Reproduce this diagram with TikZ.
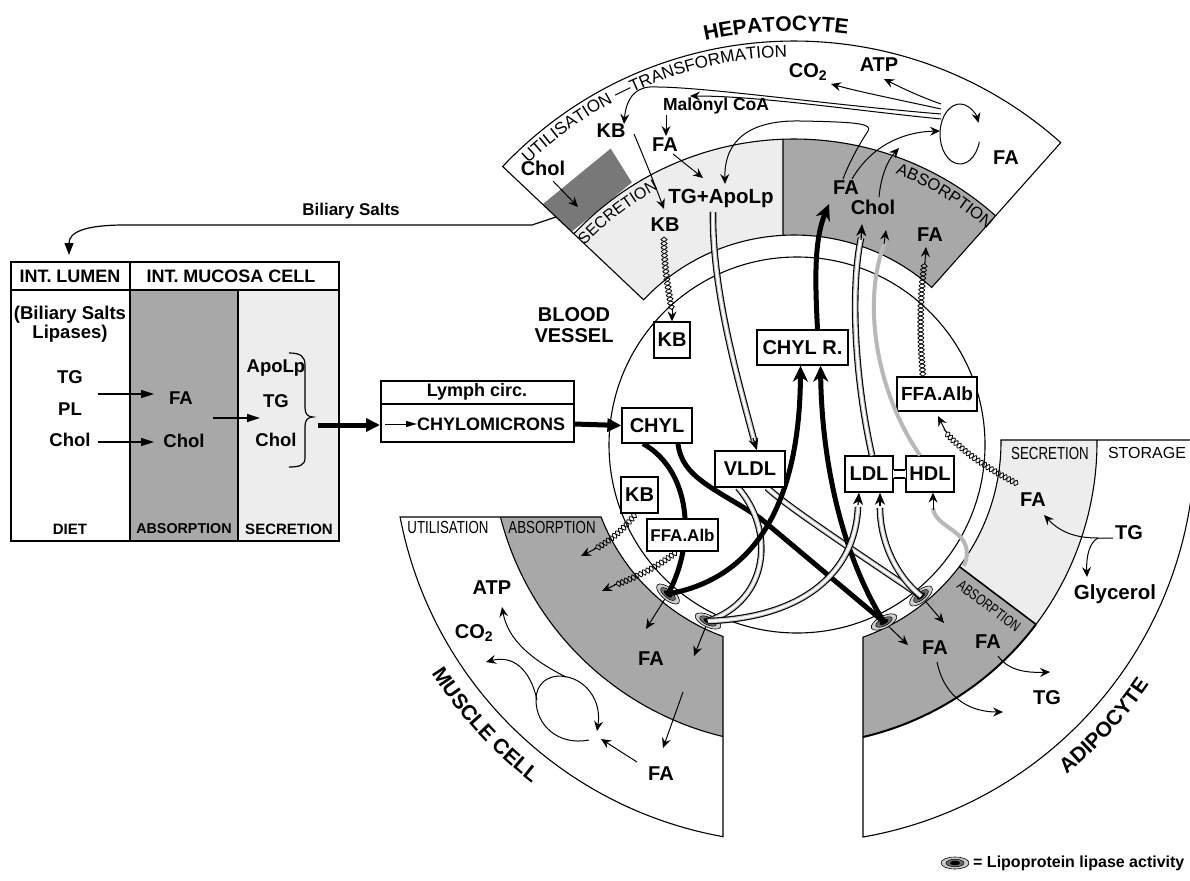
\documentclass[tikz,border=0pt]{standalone}
\usepackage{fontspec}
\setmainfont{Liberation Sans}
\newfontfamily\narrowf[FakeStretch=0.76]{Liberation Sans}
\usetikzlibrary{arrows.meta,decorations.text,decorations.pathmorphing}
\definecolor{dkg}{gray}{0.66}
\definecolor{ltg}{gray}{0.93}
\definecolor{bileg}{gray}{0.47}
\definecolor{hdlg}{gray}{0.72}
\newcommand{\fsz}[1]{\fontsize{#1}{#1}\selectfont}
\newcommand{\bigcellfont}{\bfseries\fontsize{21}{21}\selectfont}
\newcommand{\utfont}{\fontsize{17}{17}\selectfont}
\newcommand{\bandfont}{\fontsize{16}{16}\selectfont}
\newcommand{\bandfontb}{\fontsize{16.5}{16.5}\selectfont}
\tikzset{
  lb/.style={font=\bfseries\fsz{20}, inner sep=0pt},
  tb/.style={font=\bfseries\fsz{18.5}, inner sep=0pt},
  bx/.style={draw, line width=1.3pt, fill=white, font=\bfseries\fsz{20}, inner sep=0pt},
  cl/.style={line width=1.1pt},
  ar/.style={line width=1pt, -{Stealth[length=10pt,width=9pt,inset=3.5pt]}},
  tar/.style={line width=1.2pt, -{Triangle[length=13pt,width=8pt]}},
  bigtar/.style={line width=5pt, -{Triangle[length=14pt,width=13pt]}},
  fat/.style={line width=5pt},
  fatar/.style={line width=5pt, -{Stealth[length=16pt,width=15pt,inset=5pt]}},
  tube/.style={line width=6.6pt, black, postaction={draw=gray!50, line width=4.4pt}, postaction={draw=white, line width=2.2pt}},
  tubetip/.style={line width=1.2pt, -{Stealth[length=12pt,width=10pt,inset=3.5pt]}},
  chn/.style={decorate, decoration={snake, segment length=8pt, amplitude=3pt}, line width=0.8pt},
  chnm/.style={decorate, decoration={snake, segment length=8pt, amplitude=3pt, mirror}, line width=0.8pt},
  gl/.style={draw=hdlg, line width=4pt},
  lipase/.pic={
    \draw[fill=gray!40, line width=0.6pt] (0,0) ellipse [x radius=14, y radius=6];
    \draw[fill=gray!85!black, line width=0.5pt] (0,0) ellipse [x radius=9, y radius=3.8];
    \fill (0,0) ellipse [x radius=5, y radius=2.3];
  },
}
\begin{document}
\begin{tikzpicture}[x=1pt,y=-1pt]
\useasboundingbox (0,0) rectangle (1190,880);
\clip (0,0) rectangle (1190,880);
\fill[white] (0,0) rectangle (1190,880);
\coordinate (C) at (794,442);
\coordinate (V) at (797,445);

% ================= cells =================
\begin{scope}[shift={(794,442)}]
 % hepatocyte
 \fill[white] (-136.6:207) -- (-136.6:401) arc[start angle=-136.6,end angle=-48.3,radius=401] -- (-48.3:207) arc[start angle=-48.3,end angle=-136.6,radius=207] -- cycle;
 \fill[ltg] (-136.6:207) -- (-136.6:303) arc[start angle=-136.6,end angle=-92.08,radius=303] -- (-93.05:207) arc[start angle=-93.05,end angle=-136.6,radius=207] -- cycle;
 \fill[dkg] (-93.05:207) -- (-92.08:303) arc[start angle=-92.08,end angle=-48.3,radius=303] -- (-48.3:207) arc[start angle=-48.3,end angle=-93.05,radius=207] -- cycle;
 \fill[bileg] (-136.6:346) -- (-122:346) -- (-122:306) -- (-136.6:306) -- cycle;
 \draw[cl] (-136.6:303) arc[start angle=-136.6,end angle=-48.3,radius=303];
 \draw[cl] (-93.05:207) -- (-92.08:303);
 \draw[cl] (-136.6:207) -- (-136.6:401) arc[start angle=-136.6,end angle=-48.3,radius=401] -- (-48.3:207) arc[start angle=-48.3,end angle=-136.6,radius=207] -- cycle;
 % muscle cell
 \fill[white] (158.76:207) -- (169.22:401) arc[start angle=169.22,end angle=100.2,radius=401] -- (110.06:207) arc[start angle=110.06,end angle=158.76,radius=207] -- cycle;
 \fill[dkg] (158.76:207) -- (165.67:303) arc[start angle=165.67,end angle=103.55,radius=303] -- (110.06:207) arc[start angle=110.06,end angle=158.76,radius=207] -- cycle;
 \draw[cl] (165.67:303) arc[start angle=165.67,end angle=103.55,radius=303];
 \draw[cl] (158.76:207) -- (169.22:401) arc[start angle=169.22,end angle=100.2,radius=401] -- (110.06:207) arc[start angle=110.06,end angle=158.76,radius=207] -- cycle;
 % adipocyte
 \fill[white] (-0.55:207) -- (-0.29:401) arc[start angle=-0.29,end angle=80.09,radius=401] -- (70.53:207) arc[start angle=70.53,end angle=-0.55,radius=207] -- cycle;
 \fill[ltg] (-0.55:207) -- (-0.38:303) arc[start angle=-0.38,end angle=37,radius=303] -- (37:207) arc[start angle=37,end angle=-0.55,radius=207] -- cycle;
 \fill[dkg] (37:207) -- (37:303) arc[start angle=37,end angle=76.84,radius=303] -- (70.53:207) arc[start angle=70.53,end angle=37,radius=207] -- cycle;
 \draw[cl] (-0.38:303) arc[start angle=-0.38,end angle=37,radius=303];
 \draw[line width=2pt] (37:303) arc[start angle=37,end angle=76.84,radius=303];
 \draw[line width=1.6pt] (37:207) -- (37:303);
 \draw[cl] (-0.55:207) -- (-0.29:401) arc[start angle=-0.29,end angle=80.09,radius=401] -- (70.53:207) arc[start angle=70.53,end angle=-0.55,radius=207] -- cycle;
\end{scope}

% blood vessel
\draw[cl, fill=white] (V) circle[radius=188];

% cell titles along arcs
\path[decorate, decoration={text along path, text align=center, text={|\bigcellfont|HEPATOCYTE}}] ([shift={(-120:411)}]C) arc[start angle=-120, end angle=-65, radius=411];
\path[decorate, decoration={text along path, text align=center, text={|\bigcellfont|MUSCLE CELL}}] ([shift={(165:430)}]C) arc[start angle=165, end angle=110, radius=430];
\path[decorate, decoration={text along path, text align=center, text={|\bigcellfont|ADIPOCYTE}}] ([shift={(75:430)}]C) arc[start angle=75, end angle=10, radius=430];
\path[decorate, decoration={text along path, text align=center, text={|\utfont|UTILISATION —TRANSFORMATION}}] ([shift={(-135:385)}]C) arc[start angle=-135, end angle=-89.7, radius=385];
\path[decorate, decoration={text along path, text align=center, text={|\bandfont|SECRETION}}] ([shift={(-140:287)}]C) arc[start angle=-140, end angle=-115, radius=287];
\path[decorate, decoration={text along path, text align=center, text={|\bandfontb|ABSORPTION}}] ([shift={(-71:287)}]C) arc[start angle=-71, end angle=-46, radius=287];

% ================= table =================
\fill[dkg] (130,290) rectangle (238,541);
\fill[ltg] (238,290) rectangle (339,541);
\draw[line width=1.4pt] (11,262) rectangle (339,541);
\draw[line width=1.4pt] (11,290) -- (339,290);
\draw[line width=1.4pt] (130,262) -- (130,541);
\draw[line width=2.4pt] (238,290) -- (238,541);
\node[font=\bfseries\fsz{18}, inner sep=0pt] (tLum) at (70,276) {INT. LUMEN};
\node[font=\bfseries\fsz{18}, inner sep=0pt] (tMuc) at (231,276) {INT. MUCOSA CELL};
\node[font=\bfseries\fontsize{18.5}{19}\selectfont, inner sep=0pt, align=center] (tBil) at (70,324) {(Biliary Salts\\Lipases)};
\node[tb] (tTG) at (70,377) {TG};
\node[tb] (tPL) at (70,409) {PL};
\node[tb] (tCh) at (70,440) {Chol};
\node[tb] (aFAt) at (181,398) {FA};
\node[tb] (aCht) at (184,441) {Chol};
\node[tb] (sApo) at (276,368) {ApoLp};
\node[tb] (sTG) at (276,401) {TG};
\node[tb] (sCh) at (276,440) {Chol};
\node[font=\bfseries\fsz{15}, inner sep=0pt] (fDiet) at (70,529) {DIET};
\node[font=\bfseries\fsz{14.3}, inner sep=0pt] (fAbs) at (184,529) {ABSORPTION};
\node[font=\bfseries\fsz{15}, inner sep=0pt] (fSec) at (289,529) {SECRETION};
\coordinate (ta1) at (98,394); \coordinate (ta1e) at (154,394);
\coordinate (ta2) at (98,442); \coordinate (ta2e) at (154,442);
\coordinate (ta3) at (213,418); \coordinate (ta3e) at (260,418);
\draw[tar] (ta1) -- (ta1e);
\draw[tar] (ta2) -- (ta2e);
\draw[tar] (ta3) -- (ta3e);
\draw[line width=1.2pt] (289,353) .. controls (300,353) and (305,356) .. (305,365) -- (305,408) .. controls (305,414) and (308,417) .. (313,417) .. controls (308,417) and (305,420) .. (305,426) -- (305,458) .. controls (305,465) and (300,467) .. (289,467);

% biliary salts
\coordinate (bilS) at (556,217);
\coordinate (bilK) at (532,225);
\coordinate (bilE) at (69,255);
\node[font=\bfseries\fsz{17}, inner sep=0pt] (bil) at (351,211) {Biliary Salts};
\draw[line width=1.2pt, -{Triangle[length=12pt,width=9pt]}] (bilS) -- (bilK) -- (125,225) .. controls (85,225) and (69,232) .. (bilE);

% lymph box
\draw[cl] (381,381) rectangle (574,442);
\draw[cl] (381,404) -- (574,404);
\node[font=\bfseries\fsz{18}, inner sep=0pt] (lym) at (477,392) {Lymph circ.};
\node[font=\bfseries\fsz{18}, inner sep=0pt, anchor=west] (chm) at (417,424) {CHYLOMICRONS};
\coordinate (chmA) at (385,424);
\draw[line width=1pt, -{Triangle[length=11pt,width=6pt]}] (chmA) -- (chm.west);
\coordinate (brT) at (318,425); \coordinate (lymL) at (380,425);
\draw[bigtar] (brT) -- (lymL);

% ================= lipases =================
\coordinate (mu1) at (668,594);
\coordinate (mu2) at (708,621);
\coordinate (ad1) at (884,622);
\coordinate (ad2) at (921,596);
\pic[rotate=-39.7] at (mu1) {lipase};
\pic[rotate=-25.7] at (mu2) {lipase};
\pic[rotate=26.6] at (ad1) {lipase};
\pic[rotate=39.5] at (ad2) {lipase};

% ================= boxes (positions) =================
\node[bx, minimum width=36pt, minimum height=36pt] (kbA) at (672,340) {KB};
\node[bx, minimum width=91pt, minimum height=35pt] (chylr) at (802.5,347.5) {CHYL R.};
\node[bx, minimum width=80pt, minimum height=34pt, font=\bfseries\fsz{19}] (ffaA) at (937,394) {FFA.Alb};
\node[bx, minimum width=70pt, minimum height=36pt] (vldl) at (750,469) {VLDL};
\node[bx, minimum width=48pt, minimum height=36pt] (ldl) at (869,474) {LDL};
\node[bx, minimum width=48pt, minimum height=36pt] (hdl) at (930,474) {HDL};
\node[bx, minimum width=70pt, minimum height=35pt] (chyl) at (657,425.5) {CHYL};
\node[bx, minimum width=37pt, minimum height=36pt] (kbB) at (639.5,495) {KB};
\node[bx, minimum width=71pt, minimum height=32pt, font=\bfseries\fsz{17}] (ffaB) at (682.5,535) {FFA.Alb};

% ================= vessel connectors =================
\draw[bigtar] (574,424) -- (chyl.west);
% CHYL -> lipases
\draw[fat] ([shift={(-14,0)}]chyl.south) .. controls (690,470) and (697,540) .. (mu1);
\draw[fat] ([shift={(21,0)}]chyl.south) .. controls (682,478) and (715,488) .. (760,518) -- (ad1);
% VLDL tubes
\draw[tube] ([shift={(-12,0)}]vldl.south) .. controls (775,530) and (770,600) .. (mu2);
\draw[tube] ([shift={(17,0)}]vldl.south) .. controls (785,505) and (850,548) .. (ad2);
% lipases -> CHYL R.
\draw[fatar] (mu1) .. controls (775,575) and (800,470) .. ([shift={(-2,0)}]chylr.south);
\draw[fatar] (ad1) .. controls (845,560) and (822,470) .. ([shift={(18,0)}]chylr.south);
% lipases -> LDL tubes
\draw[tube] (mu2) .. controls (800,618) and (855,575) .. (858,507);
\draw[tubetip] (858,505) -- ([shift={(-10,0)}]ldl.south);
\draw[tube] (ad2) .. controls (895,575) and (880,540) .. (880,508);
\draw[tubetip] (880,506) -- ([shift={(11,0)}]ldl.south);
% HDL
\coordinate (hdlS) at (964,566);
\draw[gl] (hdlS) .. controls (978,530) and (935,530) .. (933,508);
\draw[ar] (933,510) -- ([shift={(3,0)}]hdl.south);
% redraw boxes on top
\node[bx, minimum width=70pt, minimum height=36pt] at (vldl) {VLDL};
\node[bx, minimum width=48pt, minimum height=36pt] at (ldl) {LDL};
\node[bx, minimum width=48pt, minimum height=36pt] at (hdl) {HDL};
\node[bx, minimum width=70pt, minimum height=35pt] at (chyl) {CHYL};
\node[bx, minimum width=91pt, minimum height=35pt] at (chylr) {CHYL R.};
\node[bx, minimum width=37pt, minimum height=36pt] at (kbB) {KB};
\node[bx, minimum width=71pt, minimum height=32pt, font=\bfseries\fsz{17}] at (ffaB) {FFA.Alb};
% LDL-HDL bridge
\fill[white] ([shift={(-1,-4)}]ldl.east) rectangle ([shift={(1,4)}]hdl.west);
\draw[line width=1.2pt] ([shift={(0,-4)}]ldl.east) -- ([shift={(0,-4)}]hdl.west);
\draw[line width=1.2pt] ([shift={(0,4)}]ldl.east) -- ([shift={(0,4)}]hdl.west);

% ================= hepatocyte =================
\node[lb] (hCO2) at (808,72) {CO\textsubscript{2}};
\node[lb] (hATP) at (879,65) {ATP};
\node[font=\bfseries\fsz{17.5}, inner sep=0pt] (hMal) at (716,106) {Malonyl CoA};
\node[lb] (hKB1) at (611,131) {KB};
\node[lb] (hFA1) at (665,145) {FA};
\node[lb] (hCh1) at (543,168) {Chol};
\node[font=\bfseries\fsz{20.5}, inner sep=0pt] (hTG) at (721,198) {TG+ApoLp};
\node[lb] (hKB2) at (665,225) {KB};
\node[lb] (hFA2) at (846,188) {FA};
\node[lb] (hCh2) at (873,207) {Chol};
\node[lb] (hFA3) at (930,235) {FA};
\node[lb] (hFA4) at (1006,158) {FA};
\coordinate (loopC) at (960,134);
\draw[ar] ([shift={(15:20 and 30)}]loopC) arc[start angle=15, end angle=338, x radius=20, y radius=30];
\coordinate (fan1) at (941,104); \coordinate (fan2) at (941,109);
\coordinate (fan3) at (941,114); \coordinate (fan4) at (941,119);
\coordinate (eATP) at (884,79);
\coordinate (eCO2) at (831,84);
\coordinate (eMal) at (690,96);
\coordinate (eKB1) at (624,124);
\draw[ar] (fan1) .. controls (918,96) and (898,86) .. (eATP);
\draw[ar] (fan2) .. controls (900,100) and (860,92) .. (eCO2);
\draw[ar] (fan3) .. controls (820,104) and (700,86) .. (650,87) .. controls (634,88) and (626,100) .. (eKB1);
\draw[ar] (fan4) .. controls (850,110) and (760,96) .. (eMal);
\coordinate (hFA2s) at (843,179);
\coordinate (hTGt) at (725,184);
\draw[ar] (hFA2s) .. controls (850,160) and (862,140) .. (868,131) .. controls (872,124) and (860,122) .. (800,121) .. controls (750,120) and (724,140) .. (hTGt);
\draw[ar] (852,179) .. controls (870,148) and (900,132) .. (940,131);
\draw[ar] (879,197) .. controls (881,175) and (888,160) .. (899,148);
\draw[ar] (666,115) -- (666,136);
\draw[ar] (673,154) -- (703,178);
\draw[ar] (634,134) .. controls (645,160) and (655,185) .. (664,209);
\draw[ar] (553,181) -- (578,207);
% KB chain
\draw[chn] (664,237) .. controls (664,270) and (670,295) .. (672,310);
\draw[chnm] (664,237) .. controls (664,270) and (670,295) .. (672,310);
\draw[ar] (672,308) -- (kbA.north);
% TG -> VLDL tube
\draw[tube] (713,212) .. controls (712,290) and (738,380) .. (754,440);
\draw[tubetip] (753,438) -- ([shift={(7,0)}]vldl.north);
% CHYL R -> FA
\draw[fatar] ([shift={(15,0)}]chylr.north) .. controls (815,280) and (814,240) .. (829,204);
% LDL -> Chol
\draw[tube] ([shift={(3,0)}]ldl.north) .. controls (855,380) and (850,290) .. (861,238);
\draw[tubetip] (861,240) -- (862,224);
% HDL -> Chol
\draw[gl] ([shift={(-10,0)}]hdl.north) .. controls (875,390) and (862,300) .. (885,242);
\draw[ar] (884,244) -- (886,230);
% FFA.Alb -> FA
\draw[chn] ([shift={(-14,0)}]ffaA.north) .. controls (919,330) and (921,290) .. (925,262);
\draw[chnm] ([shift={(-14,0)}]ffaA.north) .. controls (919,330) and (921,290) .. (925,262);
\draw[ar] (925,262) -- (926,247);

% ================= muscle =================
\node[font=\narrowf\fsz{17.5}, inner sep=0pt] (mUt) at (448,527) {UTILISATION};
\node[font=\narrowf\fsz{17.5}, inner sep=0pt] (mAb) at (552,527) {ABSORPTION};
\node[lb] (mATP) at (492,588) {ATP};
\node[lb] (mCO2) at (474,633) {CO\textsubscript{2}};
\node[lb] (mFA1) at (651,659) {FA};
\node[lb] (mFA2) at (661,774) {FA};
\draw[chn] ([shift={(-4,0)}]kbB.south) .. controls (625,528) and (610,540) .. (594,549);
\draw[chnm] ([shift={(-4,0)}]kbB.south) .. controls (625,528) and (610,540) .. (594,549);
\draw[ar] (595,549) -- (581,556);
\draw[chn] ([shift={(-6,0)}]ffaB.south) .. controls (660,565) and (640,575) .. (614,585);
\draw[chnm] ([shift={(-6,0)}]ffaB.south) .. controls (660,565) and (640,575) .. (614,585);
\draw[ar] (615,585) -- (602,591);
\draw[ar, shorten <=6pt] (mu1) -- (646,629);
\draw[ar, shorten <=6pt] (mu2) -- (694,656);
\draw[ar] (683,692) -- (663,748);
\draw[ar] (637,762) -- (601,739);
\draw[ar] (589,740) .. controls (558,746) and (536,725) .. (536,700) .. controls (536,683) and (548,676) .. (560,676) .. controls (585,677) and (602,700) .. (597,731);
\draw[ar] (537,700) .. controls (530,668) and (512,655) .. (486,662);
\draw[ar] (566,677) .. controls (532,660) and (508,640) .. (502,607);

% ================= adipocyte =================
\node[font=\narrowf\fsz{17.5}, inner sep=0pt] (aSec) at (1050,453) {SECRETION};
\node[font=\fsz{16}, inner sep=0pt] (aSto) at (1147,453) {STORAGE};
\node[lb] (aFA1) at (1033,500) {FA};
\node[lb] (aTG1) at (1129,533) {TG};
\node[font=\bfseries\fsz{20.5}, inner sep=0pt] (aGly) at (1115,594) {Glycerol};
\node[lb] (aFA2) at (935,648) {FA};
\node[lb] (aFA3) at (988,642) {FA};
\node[lb] (aTG2) at (1047,698) {TG};
\node[font=\narrowf\fsz{15}, inner sep=0pt, rotate=-37] (aAbs) at (989,606) {ABSORPTION};
\coordinate (aTGw) at (1113,538);
\coordinate (aJ) at (1098,538);
\draw[ar] (aTGw) -- (aJ) .. controls (1075,538) and (1060,532) .. (1044,515);
\draw[ar] (aJ) .. controls (1090,542) and (1086,555) .. (1087,577);
\draw[ar] (937,662) .. controls (945,700) and (972,712) .. (1003,712);
\draw[ar] (998,656) .. controls (1008,670) and (1025,673) .. (1050,672);
\draw[ar, shorten <=6pt] (ad1) -- (908,645);
\draw[ar, shorten <=6pt] (ad2) -- (944,623);
\draw[chn] (1018,484) .. controls (990,470) and (960,450) .. (944,429);
\draw[chnm] (1018,484) .. controls (990,470) and (960,450) .. (944,429);
\draw[ar] (945,430) -- (938,416);

% vessel label
\node[font=\bfseries\fontsize{20}{21}\selectfont, inner sep=0pt, align=center] (bv) at (574,325) {BLOOD\\VESSEL};

% legend
\coordinate (legP) at (955,863);
\pic at (legP) {lipase};
\node[font=\bfseries\fsz{16}, inner sep=0pt, anchor=west] (leg) at (973,863) {= Lipoprotein lipase activity};
\end{tikzpicture}
\end{document}
